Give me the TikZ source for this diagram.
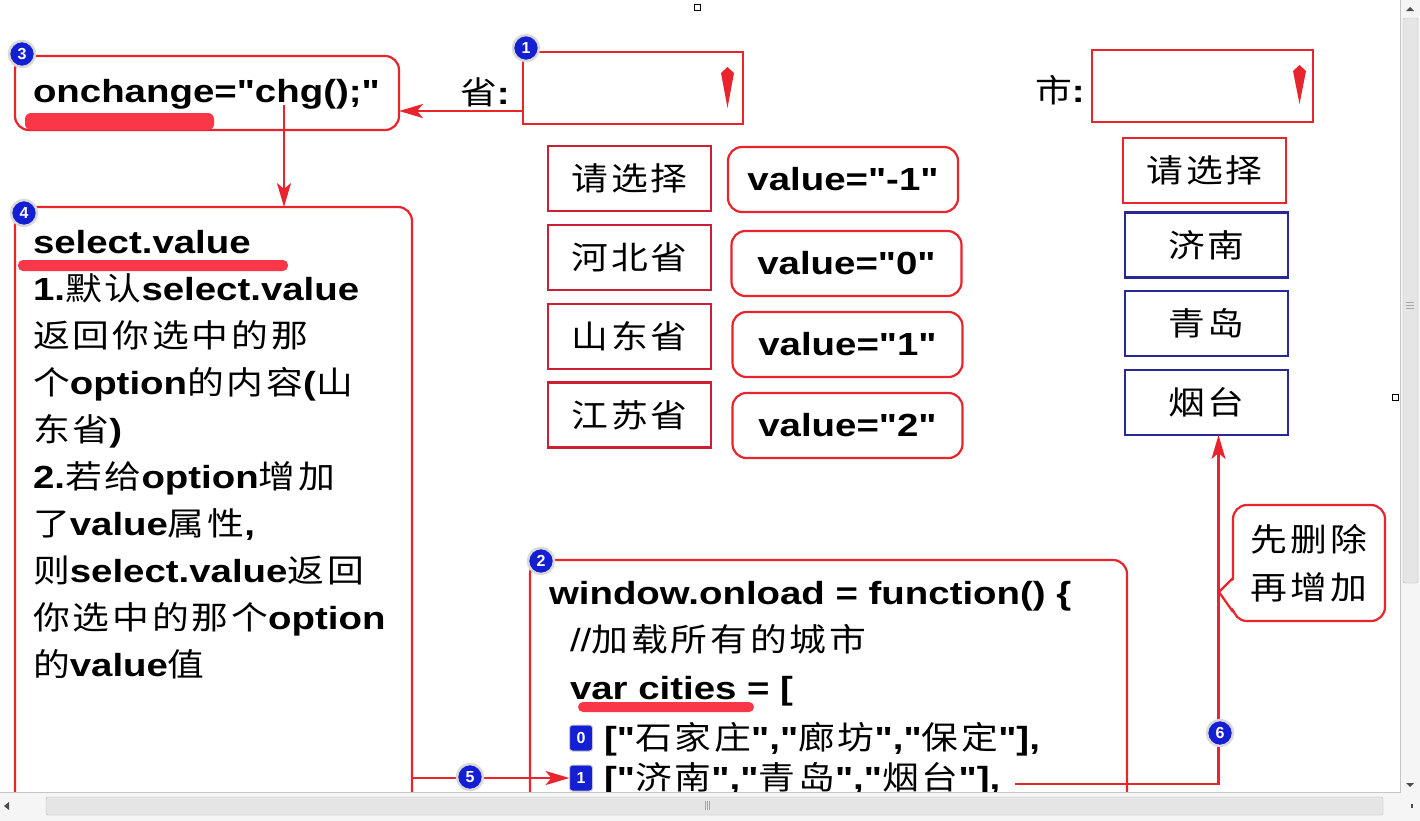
\documentclass[tikz,border=0pt]{standalone}
\usepackage{fontspec}
\usetikzlibrary{arrows.meta}
\newfontfamily\lat{Liberation Sans}[FakeStretch=1.2]
\newfontfamily\cjk{Noto Sans CJK SC}[FakeStretch=1.15,LetterSpace=9]
\newfontfamily\badgefont{Liberation Sans}
\newcommand\zh[1]{{\cjk\mdseries #1}}
\definecolor{lnred}{RGB}{232,36,44}
\definecolor{optred}{RGB}{205,30,50}
\definecolor{ulred}{RGB}{250,55,72}
\definecolor{cityblue}{RGB}{40,40,150}
\definecolor{bdgblue}{RGB}{20,30,210}
\tikzset{
  every node/.style={inner sep=0pt, outer sep=0pt},
  lt/.style={font=\lat\bfseries\fontsize{32}{47}\selectfont, anchor=base west},
  ctext/.style={font=\lat\bfseries\fontsize{32}{40}\selectfont},
  redbox/.style={draw=lnred, line width=2.2pt, fill=white},
  rbox/.style={draw=lnred, line width=2.2pt, rounded corners=14pt, fill=white},
  optbox/.style={draw=optred, line width=2.2pt, fill=white, minimum width=163pt, minimum height=65pt},
  citybox/.style={draw=cityblue, line width=2.2pt, fill=white, minimum width=163pt, minimum height=65pt},
  valbox/.style={draw=lnred, line width=2.2pt, rounded corners=14pt, fill=white, minimum width=230pt, minimum height=65pt},
  badge/.style={circle, fill=bdgblue, draw=gray!30, line width=2.5pt, minimum size=26pt, text=white, font=\badgefont\bfseries\fontsize{16}{16}\selectfont},
  sqbadge/.style={rectangle, rounded corners=3pt, fill=bdgblue, draw=gray!45, line width=1pt, minimum width=23pt, minimum height=26pt, text=white, font=\badgefont\bfseries\fontsize{16}{16}\selectfont},
  arr/.style={draw=lnred, line width=2.4pt, -{Stealth[length=24pt,width=14pt,inset=6pt]}},
}
\begin{document}
\begin{tikzpicture}[x=1pt,y=-1pt]
\useasboundingbox (0,0) rectangle (1420,820);
\clip (0,0) rectangle (1420,820);
\fill[white] (0,0) rectangle (1420,820);

% ---- box 3
\node[rbox, minimum width=384pt, minimum height=74pt] (box3) at (207,93) {};
\fill[ulred, rounded corners=6pt] (25,113) rectangle (214,130);
\node[lt] (t3) at (33,102) {onchange="chg();"};

% ---- province select
\node[font=\fontsize{32}{40}\selectfont, anchor=base west] (plab) at (460,104) {\zh{省}\lat\bfseries:};
\node[redbox, minimum width=220pt, minimum height=72pt] (sel1) at (633,88) {};
\fill[lnred] (721,73) -- (727.5,67) -- (734,73) -- (727.5,108) -- cycle;

% ---- city select
\node[font=\fontsize{32}{40}\selectfont, anchor=base west] (clab) at (1035,102) {\zh{市}\lat\bfseries:};
\node[redbox, minimum width=221pt, minimum height=72pt] (sel2) at (1202.5,86) {};
\fill[lnred] (1293,71) -- (1299.5,65) -- (1306,71) -- (1299.5,104) -- cycle;

% ---- province options
\node[optbox, font=\fontsize{32}{40}\selectfont] (o0) at (629.5,178.5) {\zh{请选择}};
\node[optbox, font=\fontsize{32}{40}\selectfont] (o1) at (629.5,257.5) {\zh{河北省}};
\node[optbox, font=\fontsize{32}{40}\selectfont] (o2) at (629.5,336.5) {\zh{山东省}};
\node[optbox, font=\fontsize{32}{40}\selectfont] (o3) at (629.5,415) {\zh{江苏省}};

% ---- values
\node[valbox, ctext] (v0) at (843,179.5) {value="-1"};
\node[valbox, ctext] (v1) at (846.5,263.5) {value="0"};
\node[valbox, ctext] (v2) at (847.5,344.5) {value="1"};
\node[valbox, ctext] (v3) at (847.5,425.5) {value="2"};

% ---- city options
\node[redbox, minimum width=163pt, minimum height=65pt, font=\fontsize{32}{40}\selectfont] (cy0) at (1204.5,170.5) {\zh{请选择}};
\node[citybox, font=\fontsize{32}{40}\selectfont] (cy1) at (1206.5,245) {\zh{济南}};
\node[citybox, font=\fontsize{32}{40}\selectfont] (cy2) at (1206.5,323.5) {\zh{青岛}};
\node[citybox, font=\fontsize{32}{40}\selectfont] (cy3) at (1206.5,402.5) {\zh{烟台}};

% ---- box 4
\node[rbox, anchor=north west, minimum width=397pt, minimum height=603pt] (box4) at (15,207) {};
\fill[ulred, rounded corners=5pt] (18,260) rectangle (288,271);
\node[lt] (l41) at (33,253) {select.value};
\node[lt] (l42) at (33,300) {1.\zh{默认}select.value};
\node[lt] (l43) at (33,347) {\zh{返回你选中的那}};
\node[lt] (l44) at (33,394) {\zh{个}option\zh{的内容}(\zh{山}};
\node[lt] (l45) at (33,441) {\zh{东省})};
\node[lt] (l46) at (33,488) {2.\zh{若给}option\zh{增加}};
\node[lt] (l47) at (33,535) {\zh{了}value\zh{属性},};
\node[lt] (l48) at (33,582) {\zh{则}select.value\zh{返回}};
\node[lt] (l49) at (33,629) {\zh{你选中的那个}option};
\node[lt] (l410) at (33,676) {\zh{的}value\zh{值}};

% ---- box 2
\node[rbox, anchor=north west, minimum width=597pt, minimum height=250pt] (box2) at (530,560) {};
\node[lt] (l21) at (549,604) {window.onload = function() \{};
\node[lt] (l22) at (570,651) {\mdseries //\zh{加载所有的城市}};
\fill[ulred, rounded corners=5pt] (578,702) rectangle (754,712);
\node[lt] (l23) at (570,699) {var cities = [};
\node[sqbadge] (sq0) at (581,738) {0};
\node[lt] (l24) at (604,749) {["\zh{石家庄}","\zh{廊坊}","\zh{保定}"],};
\node[sqbadge] (sq1) at (581,778) {1};
\node[lt] (l25) at (604,789) {["\zh{济南}","\zh{青岛}","\zh{烟台}"],};

% ---- callout
\node[rbox, minimum width=152pt, minimum height=116pt, font=\fontsize{32}{48}\selectfont, align=center] (call) at (1309,563) {\zh{先删除}\\\zh{再增加}};
\fill[white] (1236,578) -- (1219,592) -- (1236,612) -- cycle;
\draw[lnred, line width=2.2pt, line join=round] (1233,578) -- (1219,592) -- (1233,612);

% ---- connectors
\draw[arr] ([yshift=-23pt]sel1.west) -- ([yshift=-23pt]sel1.west -| box3.east);
\coordinate (c34) at (284,105);
\draw[arr] (c34) -- (c34 |- box4.north);
\draw[arr] (box4.east |- sq1) -- (sq1.west);
\coordinate (e6) at (1015,784);
\draw[arr] (e6) -| ([xshift=12pt]cy3.south);

% ---- badges
\node[badge] (b1) at (526,48) {1};
\node[badge] (b2) at (541,561) {2};
\node[badge] (b3) at (22,54) {3};
\node[badge] (b4) at (24,213) {4};
\node[badge] (b5) at (470,777) {5};
\node[badge] (b6) at (1220,733) {6};

% ---- window chrome
\draw[black, line width=1pt, fill=white] (694,4) rectangle (700,10);
\draw[black, line width=1pt, fill=white] (1392,394) rectangle (1398,400);
\fill[gray!8] (-5,792) rectangle (1425,825);
\fill[gray!8] (1400,-5) rectangle (1425,792);
\draw[gray!45] (0,792) -- (1400,792) -- (1400,0);
\draw[gray!55, fill=gray!20, rounded corners=2pt] (46,797) rectangle (1383,815);
\draw[gray!55, fill=gray!20, rounded corners=2pt] (1403,18) rectangle (1418,583);
\foreach \dx in {-2,0,2} \draw[gray!70] (707+\dx,801) -- (707+\dx,810);
\foreach \dy in {-3,0,3} \draw[gray!70] (1406,305+\dy) -- (1414,305+\dy);
\fill[gray!60!black] (4,806) -- (9,802) -- (9,810) -- cycle;
\fill[gray!60!black] (1411,804) rectangle (1413,808);
\fill[gray!60!black] (1406,11) -- (1410,7) -- (1414,11) -- cycle;
\fill[gray!60!black] (1406,783) -- (1414,783) -- (1410,787) -- cycle;
\end{tikzpicture}
\end{document}
